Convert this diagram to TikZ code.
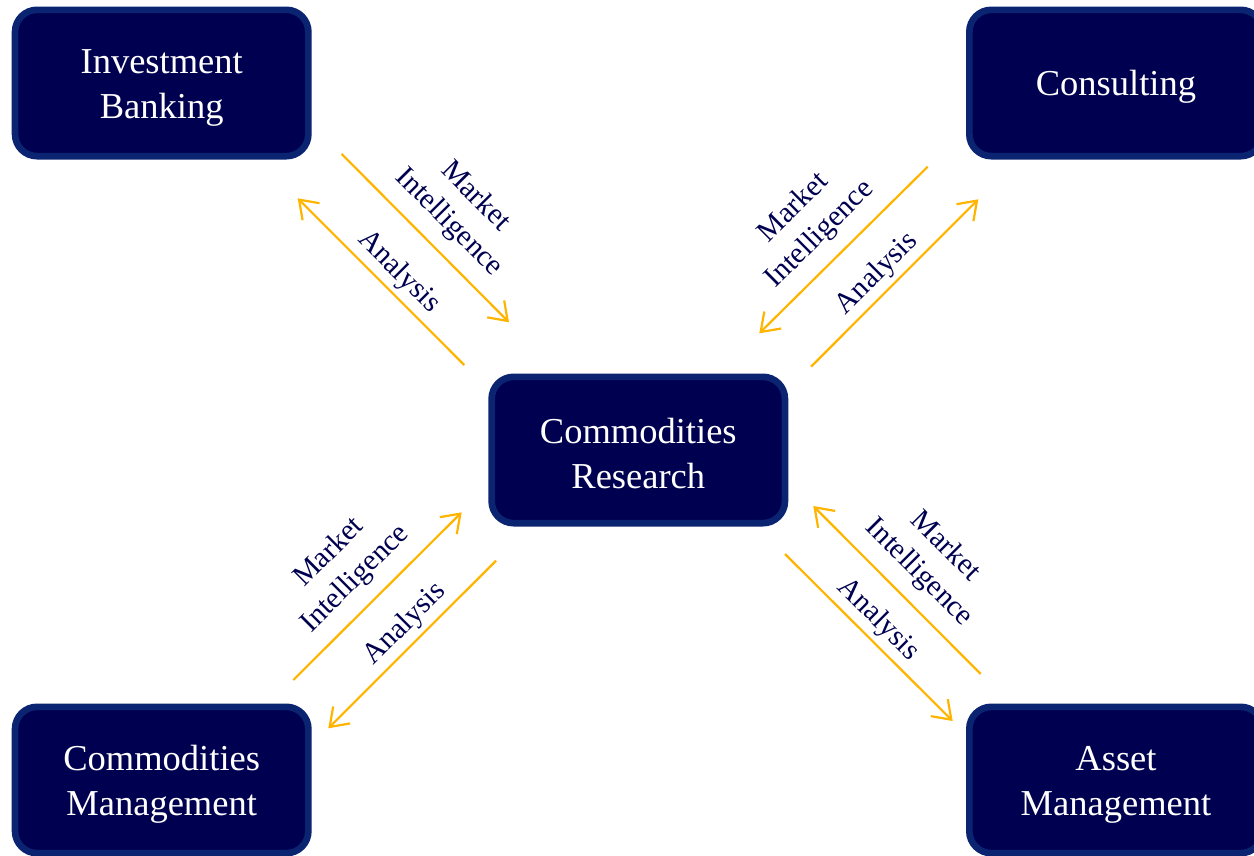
\documentclass[tikz,border=0pt]{standalone}
\usepackage{fontspec}
\setmainfont{Liberation Serif}
\usetikzlibrary{arrows.meta}
\definecolor{boxfill}{RGB}{0,0,80}
\definecolor{boxline}{RGB}{10,36,114}
\definecolor{amber}{RGB}{255,180,0}
\definecolor{lbltext}{RGB}{0,0,80}
\tikzset{
  unitbox/.style={rounded corners=22pt, fill=boxfill, draw=boxline, line width=6.7pt,
    minimum width=293.3pt, minimum height=146.3pt, inner sep=0pt, align=center,
    text=white, font=\fontsize{36.5}{45}\selectfont,
    execute at begin node={\rule{0pt}{#1}}},
  unitbox/.default=33pt,
  flow/.style={draw=amber, line width=2.2pt, -{Straight Barb[length=17pt,width=24pt]}},
  lbl/.style={sloped, above, inner xsep=2pt, align=center, text=lbltext,
    font=\fontsize{29.5}{37}\selectfont},
  milbl/.style={lbl, pos=#1, inner ysep=13pt},
  anlbl/.style={lbl, pos=#1, inner ysep=4.5pt}
}
\begin{document}
\begin{tikzpicture}[x=1pt,y=-1pt]
\useasboundingbox (0,0) rectangle (1254,855);
\node[unitbox=78pt] (ib) at (161.7,83) {Investment\\Banking};
\node[unitbox] (cons) at (1116,83) {Consulting};
\node[unitbox=78pt] (cr) at (638.3,450) {Commodities\\Research};
\node[unitbox=78pt] (cm) at (161.7,780) {Commodities\\Management};
\node[unitbox=78pt] (am) at (1116,780) {Asset\\Management};
% Investment Banking <-> Research
\coordinate (ibA) at (341.7,154);
\coordinate (ibB) at (509,322.3);
\coordinate (ibC) at (464.3,365);
\coordinate (ibD) at (297.7,198.3);
\draw[flow] (ibA) -- node[milbl=0.524]{Market\\Intelligence} (ibB);
\draw[flow] (ibC) -- node[anlbl=0.475]{Analysis} (ibD);
% Consulting <-> Research
\coordinate (coA) at (927.7,166.7);
\coordinate (coB) at (759.3,333.3);
\coordinate (coC) at (811,366.7);
\coordinate (coD) at (978.3,199.3);
\draw[flow] (coA) -- node[milbl=0.524]{Market\\Intelligence} (coB);
\draw[flow] (coC) -- node[anlbl=0.475]{Analysis} (coD);
% Commodities Management <-> Research
\coordinate (cmA) at (293.3,680);
\coordinate (cmB) at (461.7,512.3);
\coordinate (cmC) at (496,560.7);
\coordinate (cmD) at (328.3,728.3);
\draw[flow] (cmA) -- node[milbl=0.486]{Market\\Intelligence} (cmB);
\draw[flow] (cmC) -- node[anlbl=0.46]{Analysis} (cmD);
% Asset Management <-> Research
\coordinate (amA) at (980.7,674);
\coordinate (amB) at (813.3,506);
\coordinate (amC) at (785,554);
\coordinate (amD) at (952.7,721);
\draw[flow] (amA) -- node[milbl=0.486]{Market\\Intelligence} (amB);
\draw[flow] (amC) -- node[anlbl=0.475]{Analysis} (amD);
\end{tikzpicture}
\end{document}
